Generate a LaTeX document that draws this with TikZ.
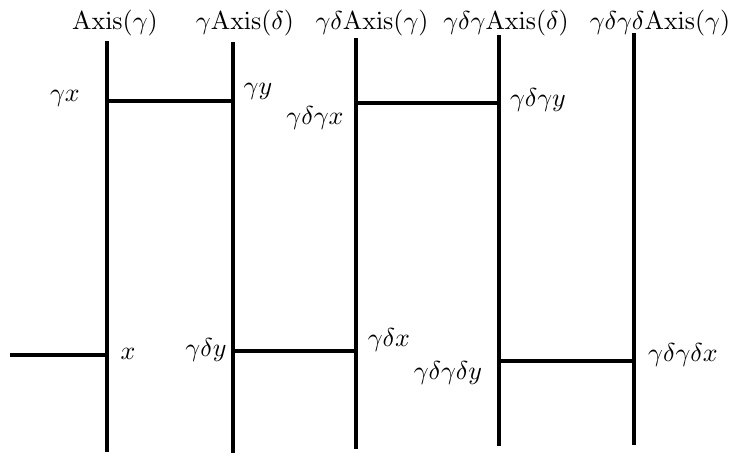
\documentclass[tikz,border=0pt]{standalone}
\usepackage{amsmath,amssymb}
\usepackage{tikz}
\usetikzlibrary{positioning}
\tikzset{
  axis-line/.style={line width=1.55pt},
  bridge-line/.style={line width=1.35pt},
  axis-label/.style={anchor=base, inner sep=0pt},
  point-label/.style={anchor=center, inner sep=0pt}
}

\begin{document}
\begin{tikzpicture}[x=0.01355cm, y=-0.01355cm]
  \useasboundingbox (0,0) rectangle (734,456);

  % Axis end points
  \coordinate (axA-top) at (107,41);  \coordinate (axA-bot) at (107,452);
  \coordinate (axB-top) at (233,42);  \coordinate (axB-bot) at (233,453);
  \coordinate (axC-top) at (356,38);  \coordinate (axC-bot) at (356,449);
  \coordinate (axD-top) at (499,35);  \coordinate (axD-bot) at (499,446);
  \coordinate (axE-top) at (634,33);  \coordinate (axE-bot) at (634,445);

  % Axes
  \draw[axis-line] (axA-top) -- (axA-bot);
  \draw[axis-line] (axB-top) -- (axB-bot);
  \draw[axis-line] (axC-top) -- (axC-bot);
  \draw[axis-line] (axD-top) -- (axD-bot);
  \draw[axis-line] (axE-top) -- (axE-bot);

  % Axis labels
  \node[axis-label] (labA) at (115,30) {$\mathrm{Axis}(\gamma)$};
  \node[axis-label] (labB) at (245,30) {$\gamma\mathrm{Axis}(\delta)$};
  \node[axis-label] (labC) at (372,30) {$\gamma\delta\mathrm{Axis}(\gamma)$};
  \node[axis-label] (labD) at (506,30) {$\gamma\delta\gamma\mathrm{Axis}(\delta)$};
  \node[axis-label] (labE) at (660,30) {$\gamma\delta\gamma\delta\mathrm{Axis}(\gamma)$};

  % Points on the axes
  \coordinate (gx)     at (107,101);
  \coordinate (gy)     at (233,101);
  \coordinate (gdgx)   at (356,103);
  \coordinate (gdgy)   at (499,103);
  \coordinate (free)   at (10,355);
  \coordinate (x)      at (107,355);
  \coordinate (gdy)    at (233,351);
  \coordinate (gdx)    at (356,351);
  \coordinate (gdgdy)  at (499,361);
  \coordinate (gdgdx)  at (634,361);

  % Connecting segments
  \draw[bridge-line] (gx) -- (gy);
  \draw[bridge-line] (gdgx) -- (gdgy);
  \draw[bridge-line] (free) -- (x);
  \draw[bridge-line] (gdy) -- (gdx);
  \draw[bridge-line] (gdgdy) -- (gdgdx);

  % Point labels
  \node[point-label] (l-gx)    at (65,98)   {$\gamma x$};
  \node[point-label] (l-gy)    at (258,91)  {$\gamma y$};
  \node[point-label] (l-gdgx)  at (315,118) {$\gamma\delta\gamma x$};
  \node[point-label] (l-gdgy)  at (538,100) {$\gamma\delta\gamma y$};
  \node[point-label] (l-x)     at (128,354) {$x$};
  \node[point-label] (l-gdy)   at (206,350) {$\gamma\delta y$};
  \node[point-label] (l-gdx)   at (389,340) {$\gamma\delta x$};
  \node[point-label] (l-gdgdy) at (448,373) {$\gamma\delta\gamma\delta y$};
  \node[point-label] (l-gdgdx) at (683,355) {$\gamma\delta\gamma\delta x$};
\end{tikzpicture}
\end{document}
